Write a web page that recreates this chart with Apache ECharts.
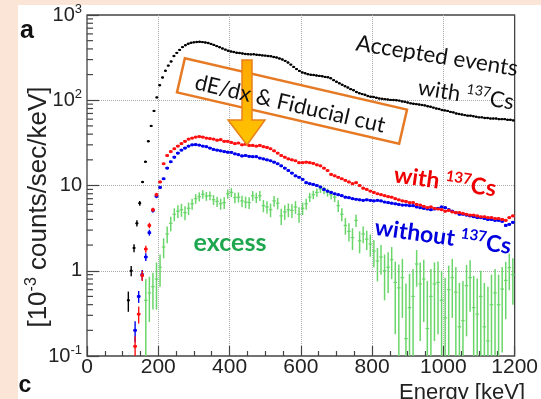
<!DOCTYPE html>
<html>
<head>
<meta charset="utf-8">
<script src="https://cdn.jsdelivr.net/npm/echarts@6/dist/echarts.min.js"></script>
<style>
  html, body { margin: 0; padding: 0; background: #fbe5d6; }
  #chart { width: 541px; height: 399px; }
</style>
</head>
<body>
<div id="chart"></div>
<script>
// accepted events with 137Cs, 8 keV bins starting at 116 keV
const blackStart = 116
const blackStep = 8
const blackCounts = [
  0.45, 1.0, 1.85, 3.6, 6.2, 11, 19, 33, 50, 75, 108,
  150, 185, 222, 255, 285, 330, 360, 390, 420, 442, 460,
  472, 478, 483, 485, 481, 476, 469, 458, 446, 432, 419,
  405, 393, 381, 373, 368, 361, 358, 354, 349, 347, 345,
  346, 342, 340, 336, 334, 330, 328, 322, 317, 309, 301,
  290, 277, 262, 246, 232, 221, 212, 207, 202, 199, 198,
  195, 193, 191, 188, 186, 181, 172, 165, 158, 152, 146,
  141, 135, 131, 125, 121, 118, 116, 112, 110, 109, 107,
  105, 104, 103, 102, 101, 100.5, 100, 99, 97, 96, 94,
  92, 91, 90, 89, 88, 87, 85, 84, 82, 80, 79,
  77, 76, 75, 73, 72, 70, 69, 68, 67, 66, 66,
  65, 64, 63, 63, 62, 62, 61, 61, 61, 60, 60,
  60, 59, 59, 58
]
const blackErr = [0.12, 0.14, 0.2, 0.3, 0.4]

// with / without 137Cs, 10 keV bins starting at 135 keV
const redStart = 135
const binStep = 10
const redCounts = [
  0.13, 0.31, 0.88, 1.8, 3.4, 5.2, 7.8, 11, 18, 22.5, 25,
  27, 29, 31, 33, 35, 36, 37, 37.5, 37, 36, 35.5,
  35, 34, 34.5, 33, 33, 32, 31, 31.5, 30, 30.5, 29.5,
  29.5, 29, 29.5, 28.5, 28, 27, 25.5, 24, 22.5, 21.5, 20.5,
  20, 19.5, 18.5, 18.5, 18.8, 18.5, 18.2, 17.5, 17, 16, 15,
  13.5, 13, 12.5, 12, 11.5, 11, 10.5, 10.8, 10, 9.3, 9,
  8.6, 8.3, 8.0, 7.8, 7.6, 7.4, 7.3, 7.0, 6.8, 6.6, 6.5,
  6.3, 6.3, 6.0, 5.9, 5.7, 5.5, 5.6, 5.4, 5.3, 5.2, 5.0,
  5.1, 4.9, 4.8, 4.8, 4.7, 4.6, 4.5, 4.5, 4.4, 4.3, 4.3,
  4.2, 4.2, 4.1, 4.1, 4.0, 3.9, 4.2, 4.4
]
const redErr = [0.04, 0.07, 0.12, 0.17, 0.25, 0.3, 0.4]
const blueCounts = [
  0.2, 0.5, 0.9, 1.45, 2.8, 5.1, 7.5, 9.5, 12, 16, 19,
  21.5, 24, 26, 27.5, 29, 30, 30.2, 29.8, 29, 28.5, 27.5,
  26.5, 26, 25.5, 25, 24.6, 24.5, 23.5, 23, 22.2, 22.5, 22,
  21.8, 21.8, 21, 20.5, 20, 19.5, 18.8, 18, 17, 16, 15,
  14, 13, 12.5, 11.8, 10.8, 10.5, 10.3, 10, 9.6, 9, 8.6,
  8.3, 8.0, 7.8, 7.6, 7.3, 7.2, 7.0, 6.9, 6.8, 6.7, 6.8,
  6.7, 6.6, 6.7, 6.6, 6.4, 6.3, 6.2, 6.1, 6.0, 5.9, 5.9,
  5.8, 5.8, 5.6, 5.5, 5.4, 5.3, 5.2, 5.3, 5.4, 5.6, 5.5,
  5.2, 5.0, 4.8, 4.6, 4.6, 4.5, 4.4, 4.3, 4.2, 4.2, 4.1,
  4.0, 4.0, 3.9, 3.9, 3.8, 3.4, 3.5, 3.7
]
const blueErr = [0.055, 0.08, 0.12, 0.15, 0.22, 0.3, 0.4]

// excess = with - without, 10 keV bins starting at 165 keV
const excessStart = 165
const excessCounts = [
  0.45, 0.55, 0.65, 0.8, 1.1, 1.9, 2.7, 3.6, 4.6, 5.0, 5.2,
  4.8, 5.4, 6.1, 7.0, 7.4, 7.9, 7.5, 7.6, 6.8, 6.5, 6.1,
  6.3, 8.0, 8.3, 7.2, 7.3, 6.6, 6.4, 6.3, 7.6, 7.2, 7.6,
  5.8, 5.6, 5.2, 6.6, 6.2, 4.4, 4.9, 5.2, 5.1, 5.6, 4.6,
  5.4, 6.1, 7.3, 7.8, 8.3, 9.1, 8.8, 8.3, 7.8, 7.3, 5.8,
  4.6, 3.4, 2.9, 2.45, 3.9, 2.25, 2.7, 2.35, 2.06, 1.7, 1.3,
  1.45, 1.0, 1.1, 1.35, 0.73, 0.63, 0.83, 0.16, 0.37, 0.5, 1.2,
  0.7, 0.8, 0.21, 0.5, 0.7, 0.73, 0.45, 0.28, 0.6, 0.83, 0.56,
  0.22, 0.26, 0.67, 0.83, 0.37, 0.31, 0.5, 0.22, 0.15, 0.4, 0.55,
  0.4, 0.61, 0.77, 1.09, 0.9
]
const excessErr = [
  0.35, 0.3, 0.3, 0.45, 0.45, 0.5, 0.6, 0.7, 0.8, 0.85, 0.9,
  0.9, 0.9, 0.9, 0.9, 0.9, 0.9, 0.9, 0.9, 0.9, 0.9, 0.9,
  1.0, 1.0, 1.0, 1.0, 1.0, 1.0, 1.0, 1.0, 1.0, 1.0, 1.0,
  0.95, 0.95, 0.95, 0.95, 0.95, 0.95, 0.95, 0.95, 0.95, 0.95, 0.95,
  0.9, 0.9, 0.9, 0.9, 0.9, 0.9, 0.9, 0.9, 0.9, 0.9, 0.9,
  0.8, 0.75, 0.7, 0.7, 0.65, 0.65, 0.6, 0.6, 0.6, 0.6, 0.55,
  0.55, 0.55, 0.55, 0.55, 0.55, 0.55, 0.55, 0.55, 0.55, 0.55, 0.55,
  0.55, 0.55, 0.55, 0.55, 0.55, 0.55, 0.55, 0.55, 0.55, 0.55, 0.55,
  0.5, 0.5, 0.5, 0.5, 0.5, 0.5, 0.5, 0.5, 0.5, 0.5, 0.5,
  0.5, 0.5, 0.5, 0.5, 0.5
]

const xTicks = [0, 200, 400, 600, 800, 1000, 1200]
const yDecades = [0.1, 1, 10, 100, 1000]

const annFont = 'Lato'
const axisFont = 'Liberation Sans'

function toPoints(start, step, vals, errs) {
  return vals.map((v, i) => [start + i * step, v, errs[i] || 0])
}

// one binned point: horizontal bar of bin width, dot, optional error bar
function binItem(half, color, lw, r) {
  return function(params, api) {
    const x = api.value(0)
    const v = api.value(1)
    const e = api.value(2)
    const p = api.coord([x, v])
    const l = api.coord([x - half, v])
    const rt = api.coord([x + half, v])
    const children = [
      { type: 'line', shape: { x1: l[0], y1: p[1], x2: rt[0], y2: p[1] }, style: { stroke: color, lineWidth: lw } },
      { type: 'circle', shape: { cx: p[0], cy: p[1], r: r }, style: { fill: color } }
    ]
    if (e > 0) {
      const top = api.coord([x, v + e])
      const bot = api.coord([x, Math.max(v - e, 0.1)])
      children.push({ type: 'line', shape: { x1: p[0], y1: top[1], x2: p[0], y2: bot[1] }, style: { stroke: color, lineWidth: 1.4 } })
    }
    return { type: 'group', children: children }
  }
}

function excessItem(params, api) {
  const x = api.value(0)
  const v = api.value(1)
  const e = api.value(2)
  const top = api.coord([x, v + e])
  const bot = api.coord([x, Math.max(v - e, 0.1)])
  const children = [
    { type: 'line', shape: { x1: top[0], y1: top[1], x2: top[0], y2: bot[1] }, style: { stroke: '#6ad66a', lineWidth: 1.5 } }
  ]
  if (v > 0.1) {
    const p = api.coord([x, v])
    const l = api.coord([x - 5, v])
    const rt = api.coord([x + 5, v])
    children.push({ type: 'line', shape: { x1: l[0], y1: p[1], x2: rt[0], y2: p[1] }, style: { stroke: '#6ad66a', lineWidth: 1.2 } })
  }
  return { type: 'group', children: children }
}

// minor ticks of the log axis (2..9 in every decade)
const yMinor = []
for (let d = 0; d < yDecades.length - 1; d++) {
  for (let k = 2; k <= 9; k++) yMinor.push([0, yDecades[d] * k])
}

function yLabel(v) {
  const p = Math.round(Math.log10(v))
  if (p === 0) return '{b|1}'
  if (p === 1) return '{b|10}'
  return '{b|10}{s|' + (p < 0 ? '-' : '') + Math.abs(p) + '}'
}

function deg(a) { return a * Math.PI / 180 }

function supText(parts, size, weight, color, sup) {
  const base = { fontSize: size, fontFamily: annFont, fontWeight: weight, fill: color, lineHeight: size + 4 }
  return {
    text: parts,
    fontSize: size, fontFamily: annFont, fontWeight: weight, fill: color,
    align: 'center', verticalAlign: 'middle', textAlign: 'center', textVerticalAlign: 'middle',
    rich: {
      a: base,
      s: { fontSize: sup, fontFamily: annFont, fontWeight: weight, fill: color, lineHeight: sup, verticalAlign: 'top' }
    }
  }
}

const chart = echarts.init(document.getElementById('chart'))
chart.setOption({
  animation: false,
  backgroundColor: '#fbe5d6',
  grid: {
    left: 87, right: 16, top: 15, bottom: 43,
    show: true, borderColor: '#444', borderWidth: 1.3, backgroundColor: 'transparent'
  },
  xAxis: {
    type: 'value', min: xTicks[0], max: xTicks[xTicks.length - 1], interval: 200,
    axisLine: { show: false },
    axisTick: { inside: true, length: 10, lineStyle: { color: '#444', width: 1.2 } },
    minorTick: { show: true, splitNumber: 4, length: 5, lineStyle: { color: '#444', width: 1.2 } },
    splitLine: { show: true, showMinLine: false, showMaxLine: false, lineStyle: { color: '#aaa', type: 'dotted', width: 1 } },
    axisLabel: { fontSize: 21, fontFamily: axisFont, color: '#222', margin: 1, formatter: v => String(v) }
  },
  yAxis: {
    type: 'log', logBase: 10, min: yDecades[0], max: yDecades[yDecades.length - 1],
    axisLine: { show: false },
    axisTick: { inside: true, length: 12, lineStyle: { color: '#444', width: 1.2 } },
    splitLine: { show: true, showMinLine: false, showMaxLine: false, lineStyle: { color: '#aaa', type: 'dotted', width: 1 } },
    axisLabel: {
      margin: 5,
      formatter: yLabel,
      rich: {
        b: { fontSize: 20, fontFamily: axisFont, color: '#222', lineHeight: 24 },
        s: { fontSize: 13, fontFamily: axisFont, color: '#222', lineHeight: 13, verticalAlign: 'top' }
      }
    }
  },
  series: [
    {
      type: 'custom', name: 'minor', clip: false, silent: true,
      renderItem: function(params, api) {
        const p = api.coord([api.value(0), api.value(1)])
        return { type: 'line', shape: { x1: p[0], y1: p[1], x2: p[0] + 6, y2: p[1] }, style: { stroke: '#444', lineWidth: 1.2 } }
      },
      data: yMinor
    },
    {
      type: 'custom', name: 'excess', clip: true,
      renderItem: excessItem,
      data: toPoints(excessStart, binStep, excessCounts, excessErr)
    },
    {
      type: 'custom', name: 'without 137Cs', clip: true,
      renderItem: binItem(5, '#0000ee', 2.2, 1.6),
      data: toPoints(redStart, binStep, blueCounts, blueErr)
    },
    {
      type: 'custom', name: 'with 137Cs', clip: true,
      renderItem: binItem(5, '#ff1010', 2.2, 1.6),
      data: toPoints(redStart, binStep, redCounts, redErr)
    },
    {
      type: 'custom', name: 'accepted', clip: true,
      renderItem: binItem(4, '#000', 1.6, 1.2),
      data: toPoints(blackStart, blackStep, blackCounts, blackErr)
    }
  ],
  graphic: [
    { type: 'rect', z: -100, shape: { x: 18, y: 5, width: 523, height: 394 }, style: { fill: '#fff' } },
    {
      type: 'text', x: 27, y: 31, z: 50,
      style: { text: 'a', fontSize: 25, fontWeight: 'bold', fontFamily: axisFont, fill: '#111', align: 'center', verticalAlign: 'middle', textAlign: 'center', textVerticalAlign: 'middle' }
    },
    {
      type: 'text', x: 25, y: 386, z: 50,
      style: { text: 'c', fontSize: 23, fontWeight: 'bold', fontFamily: axisFont, fill: '#111', align: 'center', verticalAlign: 'middle', textAlign: 'center', textVerticalAlign: 'middle' }
    },
    {
      type: 'text', x: 39, y: 207, z: 50, rotation: deg(90),
      style: {
        text: '{a|[10}{s|-3}{a| counts/sec/keV]}',
        fontSize: 26, fontFamily: axisFont, fill: '#222',
        align: 'center', verticalAlign: 'middle', textAlign: 'center', textVerticalAlign: 'middle',
        rich: {
          a: { fontSize: 26, fontFamily: axisFont, fill: '#222', lineHeight: 30 },
          s: { fontSize: 16, fontFamily: axisFont, fill: '#222', lineHeight: 16, verticalAlign: 'top' }
        }
      }
    },
    {
      type: 'text', x: 525, y: 393, z: 50,
      style: { text: 'Energy [keV]', fontSize: 22, fontFamily: axisFont, fill: '#222', align: 'right', verticalAlign: 'middle', textAlign: 'right', textVerticalAlign: 'middle' }
    },
    {
      type: 'text', x: 437, y: 56, z: 50, rotation: deg(-9),
      style: { text: 'Accepted events', fontSize: 22.5, fontFamily: annFont, fill: '#111', align: 'center', verticalAlign: 'middle', textAlign: 'center', textVerticalAlign: 'middle' }
    },
    { type: 'text', x: 466, y: 95, z: 50, rotation: deg(-9), style: supText('{a|with }{s|137}{a|Cs}', 22, 'normal', '#111', 14) },
    {
      type: 'rect', x: 292, y: 101, z: 40, rotation: deg(-13),
      shape: { x: -114, y: -17.5, width: 228, height: 35 },
      style: { fill: '#fff', stroke: '#e67a24', lineWidth: 2.5 }
    },
    {
      type: 'polygon', z: 45,
      shape: { points: [[242, 60], [252, 60], [252, 120], [265, 120], [247, 145], [228, 120], [242, 120]] },
      style: {
        fill: new echarts.graphic.LinearGradient(0, 0, 0, 1, [{ offset: 0, color: '#ffa800' }, { offset: 1, color: '#ffc400' }]),
        stroke: '#e8801c', lineWidth: 1.5
      }
    },
    {
      type: 'text', x: 290, y: 104, z: 50, rotation: deg(-13),
      style: { text: 'dE/dx & Fiducial cut', fontSize: 22, fontFamily: annFont, fill: '#111', align: 'center', verticalAlign: 'middle', textAlign: 'center', textVerticalAlign: 'middle' }
    },
    { type: 'text', x: 445, y: 182, z: 50, rotation: deg(-8), style: supText('{a|with }{s|137}{a|Cs}', 23, 'bold', '#ee0000', 15) },
    { type: 'text', x: 443, y: 237, z: 50, rotation: deg(-8), style: supText('{a|without }{s|137}{a|Cs}', 23, 'bold', '#0000dd', 15) },
    {
      type: 'text', x: 230, y: 243, z: 50,
      style: { text: 'excess', fontSize: 25, fontWeight: 'bold', fontFamily: annFont, fill: '#1ea64e', align: 'center', verticalAlign: 'middle', textAlign: 'center', textVerticalAlign: 'middle' }
    }
  ]
})
</script>
</body>
</html>
